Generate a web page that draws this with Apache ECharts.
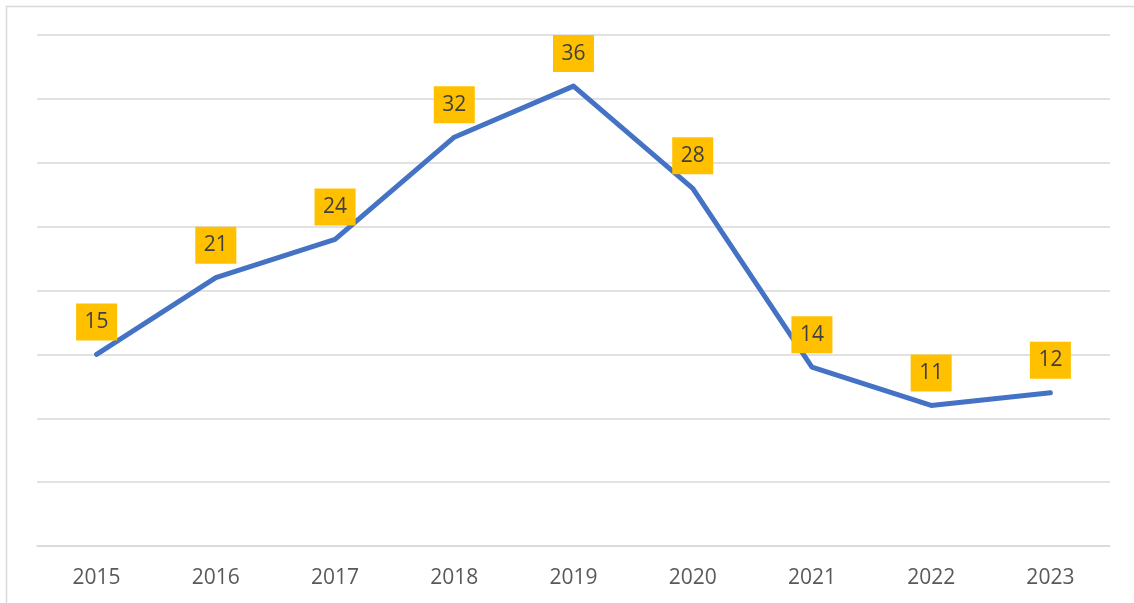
<!DOCTYPE html>
<html>
<head>
<meta charset="utf-8">
<script src="https://cdn.jsdelivr.net/npm/echarts@6/dist/echarts.min.js"></script>
<style>
  html, body { margin: 0; padding: 0; background: #fff; }
  #chart { width: 1134px; height: 603px; }
</style>
</head>
<body>
<div id="chart"></div>
<script>
// Yearly values
const years = ['2015', '2016', '2017', '2018', '2019', '2020', '2021', '2022', '2023'];
const values = [15, 21, 24, 32, 36, 28, 14, 11, 12];

const chart = echarts.init(document.getElementById('chart'), null, { renderer: 'canvas' });

chart.setOption({
  animation: false,
  backgroundColor: '#ffffff',
  graphic: [{
    type: 'rect',
    shape: { x: 6.5, y: 6.5, width: 1150, height: 620 },
    style: { fill: 'none', stroke: '#d9d9d9', lineWidth: 1.5 },
    silent: true,
    z: -1
  }],
  grid: { left: 37, right: 24, top: 35, bottom: 57 },
  xAxis: {
    type: 'category',
    data: years,
    boundaryGap: true,
    axisLine: { show: true, lineStyle: { color: '#d9d9d9', width: 1.5 } },
    axisTick: { show: false },
    axisLabel: {
      color: '#595959',
      fontFamily: 'Open Sans',
      fontSize: 21,
      margin: 22
    }
  },
  yAxis: {
    type: 'value',
    min: 0,
    max: 40,
    interval: 5,
    axisLine: { show: false },
    axisTick: { show: false },
    axisLabel: { show: false },
    splitLine: { lineStyle: { color: '#d9d9d9', width: 1.5 } }
  },
  series: [{
    type: 'line',
    data: values,
    symbol: 'circle',
    symbolSize: 4,
    showSymbol: true,
    itemStyle: { color: 'rgba(68,114,196,0)' },
    lineStyle: { color: '#4472C4', width: 5, cap: 'round', join: 'round' },
    label: {
      show: true,
      position: 'top',
      distance: 12,
      color: '#404040',
      fontFamily: 'Open Sans',
      fontSize: 21,
      lineHeight: 21,
      backgroundColor: '#FFC000',
      padding: [8, 8.5, 8, 8.5]
    }
  }]
});
</script>
</body>
</html>
